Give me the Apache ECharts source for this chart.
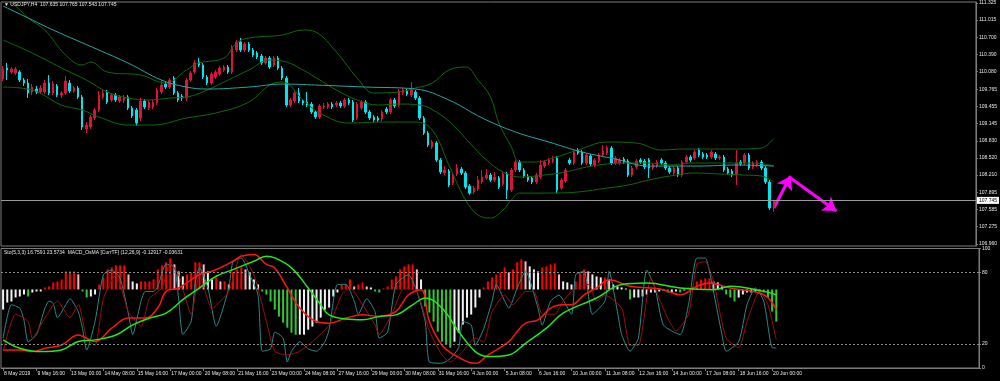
<!DOCTYPE html>
<html><head><meta charset="utf-8">
<script src="https://cdn.jsdelivr.net/npm/echarts@6/dist/echarts.min.js"></script>
<style>html,body{margin:0;padding:0;background:#000;}#c{width:1000px;height:381px;}</style>
</head><body><div id="c"></div>
<script>
const symbolTitle = '\u25BC USDJPY,H4  107.635 107.765 107.543 107.745';
const indicatorTitle = 'Sto(5,3,3) 16.7591 23.5734  MACD_OsMA [CurrTF] (12,26,9) -0.12917 -0.03631';
const timeLabels = ['8 May 2019','9 May 16:00','13 May 00:00','14 May 08:00','15 May 16:00','17 May 00:00','20 May 08:00','21 May 16:00','23 May 00:00','24 May 08:00','27 May 16:00','29 May 00:00','30 May 08:00','31 May 16:00','4 Jun 00:00','5 Jun 08:00','6 Jun 16:00','10 Jun 00:00','11 Jun 08:00','12 Jun 16:00','14 Jun 00:00','17 Jun 08:00','18 Jun 16:00','20 Jun 00:00'];
const priceTicks = [111.325,111.015,110.700,110.390,110.080,109.765,109.455,109.145,108.830,108.520,108.210,107.895,107.585,107.275,106.960];
const levelTicks = [0,20,80,100];
const levelLines = [80,20];
const lastPrice = 107.745;

// [open, close, low, high]
const ohlc = [
[109.948,110.129,109.912,110.183],[110.147,110.111,109.930,110.238],[110.075,110.129,110.039,110.165],[110.057,110.129,110.020,110.165],[110.075,109.930,109.894,110.111],
[109.930,109.876,109.821,109.966],[109.876,109.695,109.604,109.948],[109.713,109.803,109.658,109.857],[109.767,109.713,109.676,109.821],[109.713,109.785,109.676,109.839],
[109.713,109.876,109.676,109.930],[109.876,109.695,109.658,110.020],[109.695,109.857,109.658,109.912],[109.821,109.658,109.622,109.857],[109.658,109.695,109.604,109.731],
[109.695,109.912,109.658,110.002],[109.876,109.731,109.695,109.930],[109.731,109.785,109.695,109.821],[109.785,109.622,109.586,109.821],[109.622,109.079,109.024,109.658],
[109.042,109.115,108.970,109.169],[109.079,109.260,109.042,109.296],[109.242,109.387,109.205,109.423],[109.387,109.658,109.350,109.731],[109.622,109.695,109.586,109.749],
[109.695,109.531,109.495,109.749],[109.568,109.658,109.531,109.695],[109.658,109.568,109.531,109.695],[109.550,109.622,109.513,109.658],[109.568,109.622,109.513,109.658],
[109.622,109.423,109.387,109.658],[109.423,109.278,109.242,109.459],[109.387,109.151,109.097,109.423],[109.242,109.550,109.187,109.604],[109.550,109.441,109.405,109.586],
[109.423,109.531,109.387,109.568],[109.441,109.531,109.405,109.568],[109.513,109.749,109.477,109.785],[109.713,109.839,109.676,109.930],[109.857,109.803,109.767,109.894],
[109.803,109.930,109.767,109.966],[109.966,109.695,109.658,110.002],[109.695,109.568,109.531,109.731],[109.640,109.604,109.550,109.676],[109.604,109.930,109.550,109.966],
[109.930,110.057,109.894,110.093],[110.075,110.238,110.039,110.292],[110.256,110.202,110.165,110.328],[110.202,109.984,109.948,110.238],[109.984,109.876,109.839,110.020],
[109.876,110.039,109.839,110.075],[109.984,110.075,109.948,110.111],[110.039,110.147,110.002,110.183],[110.111,110.165,110.075,110.202],[110.165,110.075,110.039,110.202],
[110.075,110.528,110.039,110.564],[110.473,110.618,110.437,110.655],[110.618,110.473,110.437,110.691],[110.473,110.582,110.437,110.618],[110.582,110.473,110.437,110.618],
[110.473,110.383,110.347,110.510],[110.419,110.347,110.310,110.455],[110.365,110.238,110.202,110.401],[110.238,110.328,110.202,110.365],[110.328,110.165,110.129,110.365],
[110.202,110.328,110.165,110.365],[110.328,110.147,110.111,110.365],[110.147,109.966,109.930,110.183],[109.966,109.477,109.441,110.002],[109.477,109.568,109.441,109.604],
[109.550,109.695,109.513,109.731],[109.695,109.550,109.513,109.785],[109.550,109.513,109.477,109.586],[109.531,109.477,109.441,109.713],[109.495,109.350,109.314,109.531],
[109.350,109.260,109.224,109.387],[109.260,109.459,109.224,109.495],[109.441,109.459,109.405,109.513],[109.441,109.495,109.405,109.531],[109.495,109.441,109.405,109.531],
[109.477,109.513,109.441,109.550],[109.513,109.459,109.423,109.550],[109.459,109.568,109.423,109.604],[109.568,109.513,109.477,109.604],[109.531,109.205,109.169,109.568],
[109.242,109.495,109.205,109.531],[109.423,109.531,109.387,109.568],[109.531,109.350,109.314,109.568],[109.350,109.242,109.205,109.387],[109.260,109.205,109.169,109.296],
[109.242,109.205,109.169,109.278],[109.224,109.350,109.187,109.387],[109.405,109.350,109.314,109.441],[109.350,109.568,109.314,109.604],[109.568,109.459,109.423,109.604],
[109.477,109.731,109.441,109.767],[109.695,109.749,109.658,109.785],[109.731,109.676,109.640,109.767],[109.658,109.749,109.622,109.894],[109.713,109.604,109.568,109.749],
[109.604,109.242,109.205,109.640],[109.242,108.970,108.934,109.278],[108.970,108.753,108.716,109.006],[108.716,108.807,108.680,108.843],[108.789,108.481,108.445,108.825],
[108.481,108.264,108.228,108.517],[108.246,108.300,108.209,108.372],[108.282,108.028,107.992,108.318],[108.065,108.209,108.028,108.246],[108.228,108.336,108.191,108.409],
[108.318,108.246,108.209,108.354],[108.246,107.992,107.956,108.282],[108.010,107.883,107.847,108.046],[107.902,107.974,107.865,108.010],[107.956,108.119,107.920,108.191],
[108.083,108.173,108.046,108.300],[108.155,108.209,108.119,108.318],[108.209,108.119,108.083,108.246],[108.119,108.173,108.083,108.264],[108.155,107.992,107.956,108.191],
[108.046,108.228,108.010,108.264],[108.228,107.938,107.775,108.264],[107.938,108.300,107.902,108.336],[108.300,108.445,108.264,108.481],[108.445,108.300,108.264,108.481],
[108.300,108.191,108.155,108.336],[108.191,108.119,108.083,108.228],[108.155,108.083,108.046,108.191],[108.083,108.209,108.046,108.246],[108.173,108.391,108.137,108.481],
[108.372,108.445,108.336,108.481],[108.427,108.481,108.391,108.517],[108.463,108.499,108.427,108.554],[108.517,107.938,107.883,108.554],[107.974,108.119,107.938,108.155],
[108.101,108.300,108.065,108.336],[108.481,108.427,108.391,108.517],[108.427,108.626,108.391,108.662],[108.662,108.608,108.572,108.698],[108.626,108.427,108.391,108.662],
[108.427,108.572,108.391,108.608],[108.554,108.409,108.372,108.590],[108.391,108.481,108.354,108.517],[108.463,108.572,108.427,108.608],[108.572,108.644,108.535,108.753],
[108.608,108.698,108.572,108.735],[108.698,108.427,108.391,108.735],[108.427,108.517,108.391,108.554],[108.427,108.481,108.391,108.517],[108.499,108.445,108.409,108.535],
[108.463,108.209,108.173,108.499],[108.209,108.336,108.173,108.372],[108.354,108.463,108.318,108.499],[108.481,108.445,108.409,108.517],[108.463,108.354,108.318,108.499],
[108.481,108.336,108.155,108.517],[108.336,108.391,108.300,108.427],[108.372,108.445,108.336,108.481],[108.481,108.427,108.391,108.517],[108.427,108.336,108.300,108.463],
[108.336,108.264,108.228,108.372],[108.246,108.336,108.209,108.372],[108.336,108.209,108.173,108.372],[108.209,108.445,108.173,108.481],[108.445,108.535,108.409,108.572],
[108.535,108.481,108.445,108.572],[108.517,108.626,108.481,108.662],[108.662,108.572,108.535,108.698],[108.590,108.535,108.499,108.626],[108.572,108.535,108.499,108.608],
[108.535,108.626,108.499,108.662],[108.590,108.517,108.481,108.626],[108.517,108.535,108.481,108.572],[108.535,108.300,108.264,108.572],[108.318,108.246,108.209,108.354],
[108.282,108.209,108.173,108.318],[108.209,108.427,108.028,108.662],[108.445,108.409,108.372,108.481],[108.427,108.572,108.391,108.608],[108.572,108.336,108.300,108.608],
[108.354,108.427,108.318,108.463],[108.391,108.445,108.354,108.481],[108.445,108.336,108.300,108.481],[108.336,108.083,108.046,108.372],[108.083,107.612,107.576,108.119],
[107.635,107.745,107.543,107.765]
];

// [bar index, value]
const maLine = [[0,111.270],[7,111.017],[12,110.836],[23,110.473],[30,110.238],[38,109.930],[44,109.803],[49,109.767],[59,109.803],[67,109.857],[75,109.839],[87,109.803],[99,109.767],[107,109.568],[115,109.242],[123,108.988],[131,108.807],[139,108.626],[147,108.499],[155,108.372],[167,108.372],[176,108.391],[185,108.372]];
const bbUpper = [[0,111.43],[3,111.27],[6,111.053],[10,110.836],[15,110.383],[19,110.202],[21,110.256],[25,110.075],[33,110.020],[39,109.876],[44,110.111],[47,110.238],[53,110.328],[56,110.600],[59,110.691],[67,110.745],[72,110.836],[75,110.799],[80,110.437],[85,109.966],[89,109.695],[95,109.713],[99,109.785],[103,109.876],[107,110.111],[111,110.165],[114,109.930],[117,109.622],[119,109.151],[122,108.716],[124,108.445],[128,108.445],[132,108.517],[138,108.662],[145,108.807],[152,108.789],[158,108.662],[163,108.680],[170,108.680],[176,108.680],[182,108.698],[185,108.879]];
const bbMiddle = [[0,110.655],[7,110.419],[15,110.111],[20,109.930],[25,109.713],[30,109.604],[35,109.568],[40,109.604],[44,109.622],[49,109.749],[54,109.930],[59,110.111],[64,110.292],[68,110.256],[72,110.111],[76,109.930],[80,109.749],[85,109.568],[90,109.477],[95,109.495],[100,109.477],[104,109.350],[108,109.115],[112,108.789],[116,108.481],[120,108.264],[124,108.173],[130,108.209],[135,108.264],[140,108.354],[145,108.409],[150,108.427],[155,108.427],[160,108.391],[165,108.427],[170,108.427],[175,108.427],[180,108.427],[185,108.372]];
const bbLower = [[0,109.803],[7,109.749],[14,109.477],[19,109.387],[23,109.260],[30,109.115],[36,109.115],[44,109.242],[51,109.332],[59,109.531],[64,109.839],[67,109.894],[72,109.568],[76,109.332],[83,109.151],[91,109.169],[99,109.169],[103,109.024],[107,108.391],[111,107.757],[114,107.485],[117,107.431],[120,107.576],[122,107.757],[124,107.883],[131,107.883],[138,107.902],[145,107.974],[150,108.028],[155,108.119],[160,108.191],[166,108.246],[172,108.228],[178,108.209],[182,108.191],[185,108.083]];

const arrowUp = [[185,107.612],[189,108.191]];
const arrowDown = [[189,108.155],[200,107.558]];

const osma = [
-0.020,-0.013,-0.012,-0.008,-0.007,-0.005,-0.007,-0.003,-0.002,-0.002,
0.002,0.003,0.007,0.008,0.010,0.018,0.018,0.018,0.015,-0.002,
-0.008,-0.007,-0.005,0.005,0.012,0.020,0.022,0.024,0.024,0.024,
0.015,0.008,0.006,0.008,0.008,0.008,0.010,0.020,0.024,0.027,
0.031,0.025,0.018,0.013,0.015,0.017,0.027,0.027,0.025,0.018,
0.010,0.012,0.008,0.008,0.005,0.017,0.020,0.022,0.020,0.017,
0.010,0.005,-0.002,-0.005,-0.012,-0.020,-0.027,-0.033,-0.038,-0.043,
-0.045,-0.045,-0.045,-0.040,-0.037,-0.033,-0.028,-0.020,-0.018,-0.007,
-0.003,0.005,0.005,0.010,0.003,0.005,0.007,0.003,0.002,-0.002,
-0.003,0.001,0.003,0.010,0.013,0.020,0.023,0.025,0.025,0.020,
0.010,-0.017,-0.023,-0.032,-0.042,-0.052,-0.055,-0.058,-0.052,-0.043,
-0.035,-0.028,-0.025,-0.018,-0.008,0.002,0.008,0.012,0.015,0.017,
0.022,0.017,0.020,0.027,0.030,0.028,0.023,0.020,0.018,0.022,
0.023,0.025,0.026,0.015,0.008,0.007,0.005,0.008,0.017,0.020,
0.018,0.015,0.013,0.012,0.012,0.010,0.005,0.003,0.002,0.001,
-0.010,-0.008,-0.008,-0.007,-0.005,-0.003,-0.003,-0.002,-0.001,-0.003,
-0.003,-0.002,-0.003,-0.001,0.002,0.003,0.008,0.010,0.011,0.011,
0.008,0.007,0.003,-0.005,-0.008,-0.012,-0.008,-0.005,-0.003,-0.003,
-0.002,-0.002,-0.003,-0.008,-0.022,-0.032
];

const stochMain = [[0,25],[2,53],[4,50],[5,40],[6,22],[8,28],[10,50],[11,56],[12,54],[13,42],[15,53],[16,58],[18,47],[19,33],[20,15],[22,39],[24,78],[26,82],[28,75],[30,45],[31,28],[33,56],[34,64],[36,64],[37,68],[39,87],[41,84],[42,58],[43,28],[45,39],[46,72],[47,84],[49,67],[51,35],[54,67],[55,89],[57,92],[59,78],[61,61],[62,14],[64,16],[65,30],[67,25],[68,5],[69,14],[71,22],[73,16],[75,14],[77,22],[78,32],[80,70],[82,70],[84,56],[85,45],[87,58],[89,47],[90,25],[92,30],[94,70],[97,78],[99,64],[101,39],[102,5],[105,4],[107,8],[109,17],[110,39],[112,36],[113,19],[115,33],[117,56],[118,70],[120,56],[121,50],[123,67],[125,81],[128,50],[129,36],[131,56],[133,61],[136,45],[137,78],[139,81],[141,45],[144,56],[145,81],[147,47],[148,28],[150,14],[152,25],[154,82],[156,67],[158,36],[162,28],[164,53],[166,92],[168,92],[169,81],[172,28],[173,14],[176,22],[178,53],[180,67],[182,56],[184,17],[185,16.76]];
const stochSignal = [[0,14],[3,45],[6,39],[7,25],[10,42],[13,56],[16,42],[18,53],[20,25],[22,19],[24,58],[27,78],[30,47],[33,35],[35,58],[38,67],[40,87],[42,78],[45,45],[47,78],[50,50],[54,64],[57,95],[60,78],[63,39],[65,14],[68,11],[71,14],[74,22],[78,36],[81,61],[83,67],[86,53],[89,36],[90,28],[93,45],[96,67],[99,64],[102,31],[105,11],[107,5],[110,14],[113,25],[115,22],[117,47],[120,61],[122,53],[125,64],[127,64],[129,45],[132,45],[134,56],[136,64],[140,70],[142,56],[144,61],[148,50],[150,19],[152,19],[155,75],[157,58],[159,42],[161,31],[164,45],[166,87],[168,89],[170,72],[173,25],[176,17],[178,39],[181,64],[183,53],[185,23.57]];
const macdMain = [[0,-0.390],[4,-0.390],[7,-0.401],[10,-0.379],[14,-0.358],[18,-0.293],[20,-0.314],[22,-0.336],[26,-0.249],[30,-0.184],[34,-0.184],[37,-0.119],[39,-0.011],[42,0.011],[47,0.098],[50,0.119],[55,0.184],[57,0.217],[60,0.228],[63,0.163],[65,0.141],[68,0.011],[71,-0.119],[75,-0.206],[78,-0.217],[82,-0.184],[86,-0.163],[90,-0.173],[94,-0.141],[97,-0.033],[100,0.0],[102,-0.206],[105,-0.358],[108,-0.423],[113,-0.477],[116,-0.423],[121,-0.336],[123,-0.271],[125,-0.217],[128,-0.195],[131,-0.119],[134,-0.098],[136,-0.098],[139,-0.033],[142,0.011],[145,0.065],[150,0.022],[155,0.011],[158,0.0],[162,-0.033],[166,0.022],[169,0.043],[174,0.011],[182,-0.033],[185,-0.130]];
const macdSignal = [[0,-0.325],[4,-0.379],[9,-0.401],[14,-0.390],[18,-0.336],[22,-0.325],[27,-0.293],[31,-0.228],[35,-0.184],[39,-0.152],[43,-0.065],[47,0.011],[51,0.087],[55,0.130],[60,0.184],[63,0.217],[65,0.206],[69,0.141],[73,0.011],[76,-0.098],[78,-0.163],[82,-0.190],[86,-0.195],[90,-0.173],[94,-0.163],[98,-0.098],[101,-0.054],[105,-0.119],[109,-0.271],[113,-0.401],[116,-0.433],[121,-0.423],[125,-0.347],[130,-0.249],[134,-0.152],[142,-0.054],[148,0.033],[154,0.043],[162,0.011],[170,0.0],[174,0.022],[182,-0.011],[185,-0.033]];

// ---------- rendering ----------
const SLOTS = 234;
const LABEL_STEP = 8;
const slots = Array.from({length: SLOTS}, (_, i) => String(i));
const FONT = 'Liberation Sans';
const FS = 5;
const GRAY = '#7c7c7c';
const TXT = '#e6e6e6';
const UP = '#dc143c';
const DOWN = '#00e6f0';

const showTime = (idx) => idx % LABEL_STEP === 0 && idx / LABEL_STEP < timeLabels.length;

function osmaColor(p) {
  const i = p.dataIndex, v = osma[i];
  const prev = i > 0 ? osma[i - 1] : v;
  const prev2 = i > 1 ? osma[i - 2] : prev;
  if (v >= 0) {
    if (v >= prev) return '#ff0000';
    return prev >= prev2 ? '#ffb6c1' : '#f0f0f0';
  }
  return v < prev ? '#33c833' : '#f0f0f0';
}

const chart = echarts.init(document.getElementById('c'), null, {renderer: 'canvas'});
chart.setOption({
  backgroundColor: '#000',
  animation: false,
  title: [
    {text: symbolTitle, left: 4, top: 2.5, padding: 0, textStyle: {color: TXT, fontSize: FS, fontWeight: 'normal', fontFamily: FONT}},
    {text: indicatorTitle, left: 4, top: 250.5, padding: 0, textStyle: {color: TXT, fontSize: FS, fontWeight: 'normal', fontFamily: FONT}}
  ],
  grid: [
    {left: 1, top: 2, width: 978, height: 244, show: true, borderColor: GRAY, borderWidth: 1, containLabel: false},
    {left: 1, top: 248.5, width: 978, height: 119.5, show: true, borderColor: GRAY, borderWidth: 1, containLabel: false}
  ],
  xAxis: [
    {type: 'category', gridIndex: 0, data: slots, boundaryGap: true,
     axisLine: {show: false}, axisTick: {show: false}, axisLabel: {show: false}, splitLine: {show: false}},
    {type: 'category', gridIndex: 1, data: slots, boundaryGap: true,
     axisLine: {show: true, lineStyle: {color: GRAY}},
     axisTick: {show: true, alignWithLabel: true, interval: showTime, length: 3, lineStyle: {color: GRAY}},
     axisLabel: {interval: showTime, formatter: (val, idx) => timeLabels[Number(val) / LABEL_STEP],
       color: TXT, fontSize: FS, fontFamily: FONT, align: 'left', margin: 3.5, padding: [0, 0, 0, 1]},
     splitLine: {show: false}}
  ],
  yAxis: [
    {type: 'value', gridIndex: 0, position: 'right', min: 106.924, max: 111.343, scale: true,
     axisLine: {show: true, lineStyle: {color: GRAY}},
     axisTick: {show: true, customValues: priceTicks, length: 2, lineStyle: {color: GRAY}},
     axisLabel: {customValues: priceTicks, formatter: v => v.toFixed(3), color: TXT, fontSize: FS, fontFamily: FONT, margin: 3},
     splitLine: {show: false}},
    {type: 'value', gridIndex: 1, position: 'right', min: 0, max: 100,
     axisLine: {show: true, lineStyle: {color: GRAY}},
     axisTick: {show: true, customValues: levelTicks, length: 2, lineStyle: {color: GRAY}},
     axisLabel: {customValues: levelTicks, formatter: v => String(v), color: TXT, fontSize: FS, fontFamily: FONT, margin: 3},
     splitLine: {show: false}},
    {type: 'value', gridIndex: 1, min: -0.0782, max: 0.0408, show: false, splitLine: {show: false}},
    {type: 'value', gridIndex: 1, min: -0.507, max: 0.2665, show: false, splitLine: {show: false}}
  ],
  series: [
    {type: 'line', name: 'bbU', xAxisIndex: 0, yAxisIndex: 0, data: bbUpper, smooth: 0.4, showSymbol: false,
     lineStyle: {color: '#0d6a0d', width: 1}, silent: true},
    {type: 'line', name: 'bbM', xAxisIndex: 0, yAxisIndex: 0, data: bbMiddle, smooth: 0.4, showSymbol: false,
     lineStyle: {color: '#0d6a0d', width: 1}, silent: true},
    {type: 'line', name: 'bbL', xAxisIndex: 0, yAxisIndex: 0, data: bbLower, smooth: 0.4, showSymbol: false,
     lineStyle: {color: '#0d6a0d', width: 1}, silent: true},
    {type: 'line', name: 'ma', xAxisIndex: 0, yAxisIndex: 0, data: maLine, smooth: 0.4, showSymbol: false,
     lineStyle: {color: '#1fa9a4', width: 1}, silent: true},
    {type: 'candlestick', name: 'USDJPY', xAxisIndex: 0, yAxisIndex: 0, data: ohlc, barWidth: 2,
     itemStyle: {color: UP, color0: DOWN, borderColor: UP, borderColor0: DOWN, borderWidth: 1},
     markLine: {symbol: 'none', silent: true, animation: false,
       lineStyle: {color: '#9a9a9a', width: 1, type: 'solid'},
       label: {position: 'end', distance: 1, formatter: () => lastPrice.toFixed(3), backgroundColor: '#ffffff',
         color: '#000', fontSize: FS, fontFamily: FONT, padding: [1, 2, 1, 2]},
       data: [{yAxis: lastPrice}]}},
    {type: 'lines', coordinateSystem: 'cartesian2d', xAxisIndex: 0, yAxisIndex: 0,
     symbol: ['none', 'arrow'], symbolSize: 13,
     lineStyle: {color: '#ff00ff', width: 3, opacity: 1},
     data: [{coords: arrowUp}, {coords: arrowDown}], silent: true},
    {type: 'bar', name: 'osma', xAxisIndex: 1, yAxisIndex: 2, data: osma, barWidth: 2,
     itemStyle: {color: osmaColor}, silent: true},
    {type: 'line', name: 'stoch', xAxisIndex: 1, yAxisIndex: 1, data: stochMain, smooth: 0.2, showSymbol: false,
     lineStyle: {color: '#2a8a8a', width: 1}, silent: true,
     markLine: {symbol: 'none', silent: true, label: {show: false},
       lineStyle: {color: '#8a8a8a', width: 1, type: [2, 2]},
       data: levelLines.map(v => ({yAxis: v}))}},
    {type: 'line', name: 'signal', xAxisIndex: 1, yAxisIndex: 1, data: stochSignal, smooth: 0.2, showSymbol: false,
     lineStyle: {color: '#a00d0d', width: 1}, silent: true},
    {type: 'line', name: 'macd', xAxisIndex: 1, yAxisIndex: 3, data: macdMain, smooth: 0.4, showSymbol: false,
     lineStyle: {color: '#ff1414', width: 1.5}, silent: true},
    {type: 'line', name: 'macdSignal', xAxisIndex: 1, yAxisIndex: 3, data: macdSignal, smooth: 0.4, showSymbol: false,
     lineStyle: {color: '#1eea1e', width: 1.5}, silent: true}
  ]
});
</script>
</body></html>
